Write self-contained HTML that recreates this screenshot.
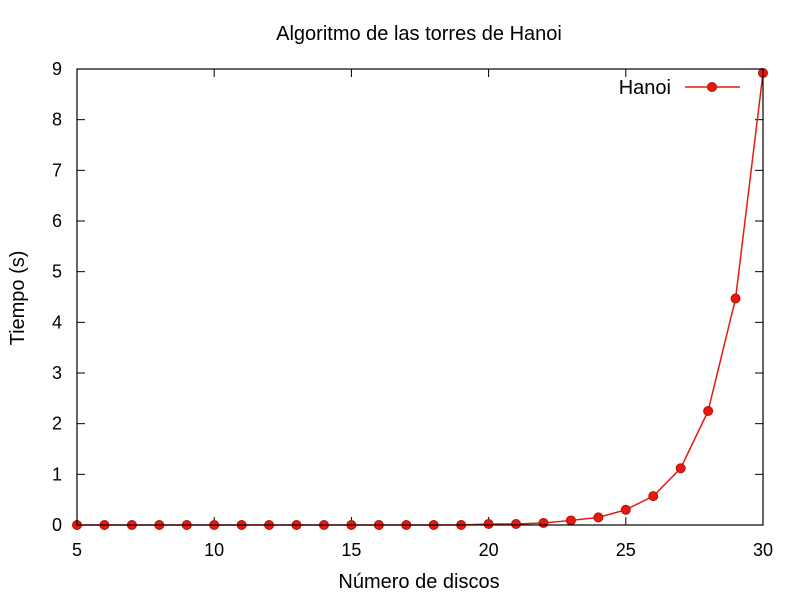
<!DOCTYPE html>
<html><head><meta charset="utf-8"><style>
body{margin:0;background:#fff}
svg text{font-family:"Liberation Sans",sans-serif;font-size:18px;fill:#000}
svg text.big{font-size:20px}
</style></head><body>
<svg id="chart" width="800" height="600">
<rect width="800" height="600" fill="#fff"/>
<text class="big" x="419" y="40" text-anchor="middle">Algoritmo de las torres de Hanoi</text>
<text class="big" x="419" y="588" text-anchor="middle">Número de discos</text>
<text class="big" transform="translate(24,298) rotate(-90)" text-anchor="middle">Tiempo (s)</text>
<g id="axes"></g>
<g id="series"></g>
<rect x="77" y="69" width="686" height="456" fill="none" stroke="#000" stroke-width="1.2"/>
<g>
<text class="big" x="671" y="94" text-anchor="end">Hanoi</text>
<line x1="685" y1="87" x2="740" y2="87" stroke="#e8190c" stroke-width="1.5"/>
<circle cx="712" cy="87" r="4.5" fill="#e8190c" stroke="#b0120a"/>
</g>
</svg>
<script>
const discos=[5,6,7,8,9,10,11,12,13,14,15,16,17,18,19,20,21,22,23,24,25,26,27,28,29,30];
const tiempos=[0,0,0,0,0,0,0,0,0,0,0,0,0,0,0,0.02,0.02,0.04,0.09,0.15,0.3,0.57,1.12,2.25,4.47,8.92];
const xTicks=[5,10,15,20,25,30];
const yTicks=[0,1,2,3,4,5,6,7,8,9];
const X0=77,X1=763,Y0=525,Y1=69;
const sx=v=>X0+(v-5)/(30-5)*(X1-X0);
const sy=v=>Y0-(v/9)*(Y0-Y1);
const NS="http://www.w3.org/2000/svg";
const axes=document.getElementById('axes');
function mk(tag,attrs,parent){const e=document.createElementNS(NS,tag);for(const k in attrs)e.setAttribute(k,attrs[k]);parent.appendChild(e);return e;}
xTicks.forEach(t=>{
 const x=sx(t);
 const l1=mk('line',{x1:x,y1:Y0,x2:x,y2:Y0-8,stroke:'#000'},axes);
 
 
 const l2=mk('line',{x1:x,y1:Y1,x2:x,y2:Y1+8,stroke:'#000'},axes);
 
 
 const tx=mk('text',{x:x,y:556,'text-anchor':'middle'},axes);tx.textContent=t;
 
 
});
yTicks.forEach(t=>{
 const y=sy(t);
 const l1=mk('line',{x1:X0,y1:y,x2:X0+8,y2:y,stroke:'#000'},axes);
 
 
 const l2=mk('line',{x1:X1,y1:y,x2:X1-8,y2:y,stroke:'#000'},axes);
 
 
 const tx=mk('text',{x:62,y:y+6,'text-anchor':'end'},axes);tx.textContent=t;
 
 
});
const g=document.getElementById('series');
const pts=discos.map((d,i)=>sx(d)+','+sy(tiempos[i])).join(' ');
const pl=mk('polyline',{points:pts,fill:'none',stroke:'#e8190c','stroke-width':1.5},g);


discos.forEach((d,i)=>{
 const c=mk('circle',{cx:sx(d),cy:sy(tiempos[i]),r:4.5,fill:'#e8190c',stroke:'#b0120a'},g);
 
 
});
</script>
</body></html>
